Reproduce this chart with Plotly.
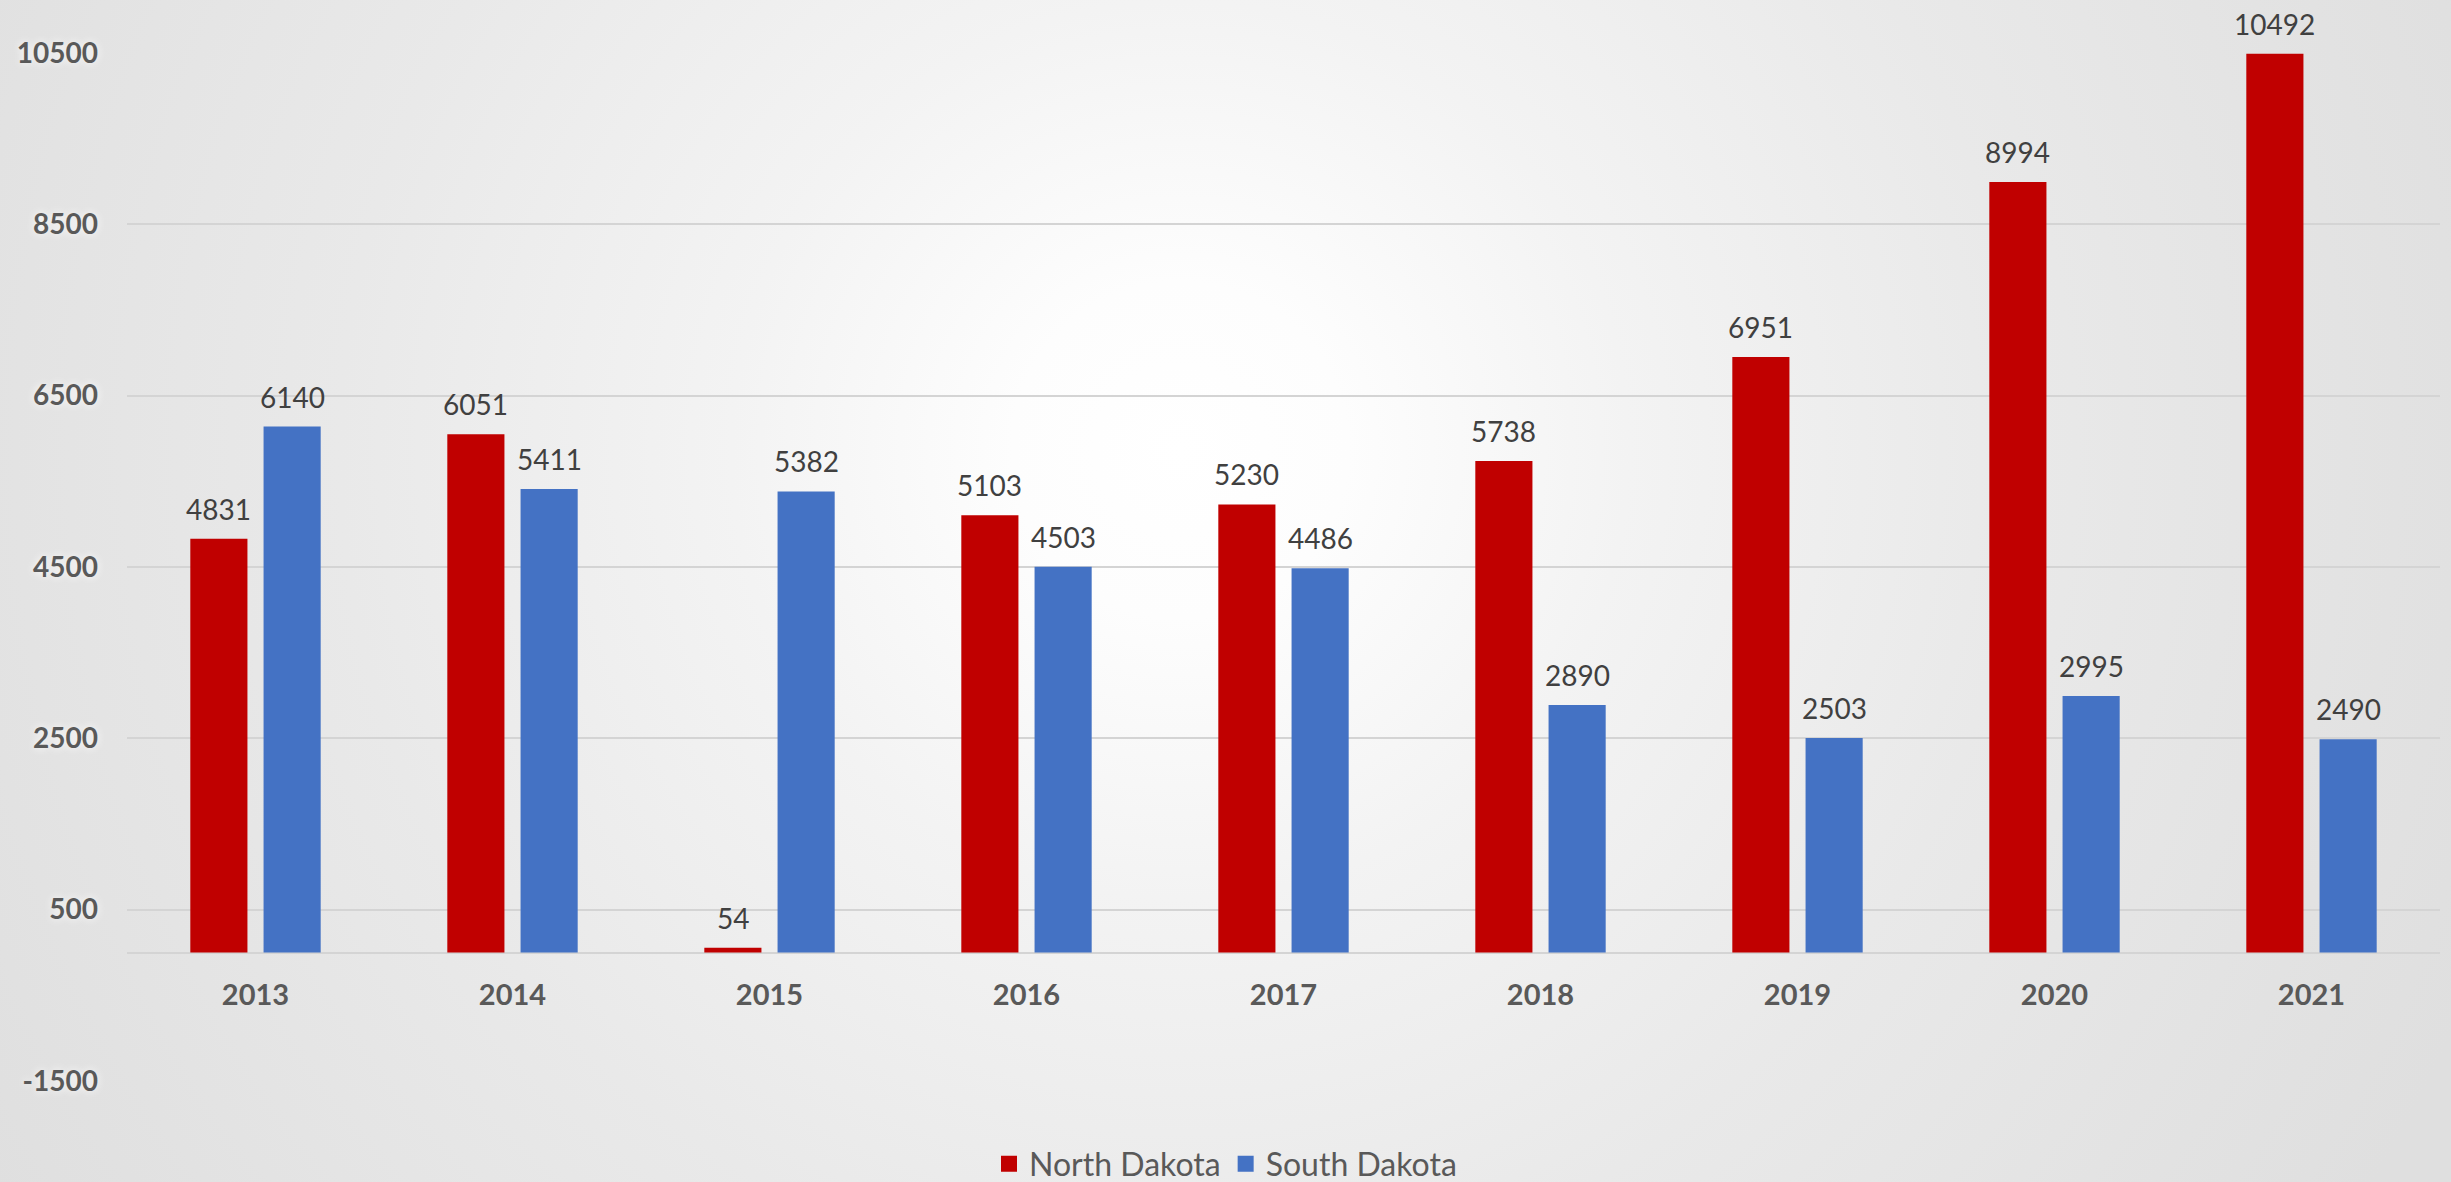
import base64
import plotly.graph_objects as go

# Annual figures by state
years = ["2013", "2014", "2015", "2016", "2017", "2018", "2019", "2020", "2021"]
north_dakota = [4831, 6051, 54, 5103, 5230, 5738, 6951, 8994, 10492]
south_dakota = [6140, 5411, 5382, 4503, 4486, 2890, 2503, 2995, 2490]
y_ticks = [-1500, 500, 2500, 4500, 6500, 8500, 10500]

W, H = 2451, 1182
M_L, M_R, M_T, M_B = 127, 11, 53, 101
plot_w, plot_h = W - M_L - M_R, H - M_T - M_B
y_min, y_max = -1500, 10500

BARGAP = 0.43
BARGROUPGAP = 0.22

RED = "#C00000"
BLUE = "#4472C4"
FONT = "Lato, 'Open Sans', sans-serif"

# Soft radial backdrop: light centre fading to grey edges
svg = f"""<svg xmlns='http://www.w3.org/2000/svg' width='{W}' height='{H}' viewBox='0 0 {W} {H}'>
<defs><radialGradient id='g' gradientUnits='userSpaceOnUse' cx='1180' cy='450' r='1400'>
<stop offset='0' stop-color='#ffffff'/>
<stop offset='0.12' stop-color='#fdfdfd'/>
<stop offset='0.32' stop-color='#f3f3f3'/>
<stop offset='0.6' stop-color='#e9e9e9'/>
<stop offset='0.87' stop-color='#e2e2e2'/>
<stop offset='1' stop-color='#dfdfdf'/>
</radialGradient></defs>
<rect width='{W}' height='{H}' fill='url(#g)'/></svg>"""
bg_src = "data:image/svg+xml;base64," + base64.b64encode(svg.encode()).decode()

fig = go.Figure()
fig.add_trace(go.Bar(name="North Dakota", x=years, y=north_dakota, showlegend=False,
                     marker=dict(color=RED, line=dict(width=0))))
fig.add_trace(go.Bar(name="South Dakota", x=years, y=south_dakota, showlegend=False,
                     marker=dict(color=BLUE, line=dict(width=0))))

# Legend keys with square swatches
for name, color in (("North Dakota", RED), ("South Dakota", BLUE)):
    fig.add_trace(go.Scatter(name=name, x=[None], y=[None], mode="markers",
                             marker=dict(symbol="square", size=17, color=color)))

# Value labels above each bar, offset to their slot in the group
slot = (1 - BARGAP) / 2
annotations = []
for series, shift in ((north_dakota, -slot / 2), (south_dakota, slot / 2)):
    for i, v in enumerate(series):
        annotations.append(dict(
            x=i + shift, y=v, xref="x", yref="y", text=str(v),
            showarrow=False, yanchor="middle", yshift=30,
            font=dict(family=FONT, size=28, color="#404040"),
        ))

fig.update_layout(
    width=W, height=H,
    margin=dict(l=M_L, r=M_R, t=M_T, b=M_B, pad=0, autoexpand=False),
    paper_bgcolor="#e4e4e4",
    plot_bgcolor="rgba(0,0,0,0)",
    barmode="group",
    bargap=BARGAP,
    bargroupgap=BARGROUPGAP,
    font=dict(family=FONT, color="#595959"),
    showlegend=True,
    legend=dict(orientation="h", xref="container", x=0.5, xanchor="center",
                yref="container", y=(H - 1164) / H, yanchor="middle",
                font=dict(family=FONT, size=32, color="#595959"),
                bgcolor="rgba(0,0,0,0)", traceorder="normal", itemclick=False),
    images=[dict(source=bg_src, xref="paper", yref="paper",
                 x=-M_L / plot_w, y=1 + M_T / plot_h,
                 sizex=W / plot_w, sizey=H / plot_h,
                 sizing="stretch", layer="below", xanchor="left", yanchor="top")],
    annotations=annotations,
    xaxis=dict(
        type="category", range=[-0.5, len(years) - 0.5],
        anchor="free", position=(0 - y_min) / (y_max - y_min),
        showgrid=False, showline=False, ticks="",
        ticklabelstandoff=22,
        tickfont=dict(family=FONT, size=29, color="#595959", weight="bold"),
    ),
    yaxis=dict(
        range=[y_min, y_max], tickvals=y_ticks, ticktext=[str(t) for t in y_ticks],
        showgrid=True, gridcolor="#d4d4d4", gridwidth=2,
        zeroline=True, zerolinecolor="#d4d4d4", zerolinewidth=2,
        showline=False, ticks="", ticklabelstandoff=28,
        tickfont=dict(family=FONT, size=28, color="#595959", weight="bold",
                      shadow="0px 0px 8px #ffffff"),
    ),
)

fig.write_html("out.html", config={"displayModeBar": False})
